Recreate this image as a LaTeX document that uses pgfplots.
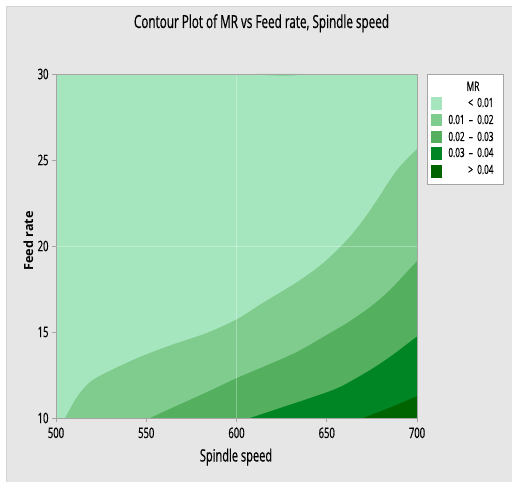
\documentclass[border=0pt]{standalone}
\usepackage{fontspec}
\setmainfont{Open Sans}[FakeStretch=0.65, FakeBold=0.6]
\newfontfamily\ylabfont{Open Sans}
\usepackage{pgfplots}
\pgfplotsset{compat=1.18}

\definecolor{lev1}{RGB}{166,230,190}
\definecolor{lev2}{RGB}{128,204,143}
\definecolor{lev3}{RGB}{84,176,94}
\definecolor{lev4}{RGB}{0,133,36}
\definecolor{lev5}{RGB}{0,100,0}
\definecolor{bggray}{RGB}{230,230,230}
\definecolor{edgegray}{RGB}{212,212,212}
\definecolor{axgray}{RGB}{165,165,165}

\begin{document}
\begin{tikzpicture}
\useasboundingbox (0,0) rectangle (512bp,482bp);
\fill[white] (0,0) rectangle (512bp,482bp);
\fill[bggray] (6bp,0) rectangle (512bp,476bp);
\draw[edgegray, line width=0.6bp] (6.3bp,0) -- (6.3bp,475.7bp) -- (512bp,475.7bp);

\begin{axis}[
    at={(56bp,64bp)}, anchor=south west,
    scale only axis,
    width=361bp, height=344bp,
    xmin=500, xmax=700,
    ymin=10, ymax=30,
    xtick={500,550,600,650,700},
    ytick={10,15,20,25,30},
    xtick pos=bottom, ytick pos=left,
    tick align=outside,
    major tick length=4bp,
    tick style={draw=axgray, line width=0.6bp},
    axis line style={draw=axgray, line width=0.8bp},
    axis background/.style={fill=lev1},
    /pgf/number format/assume math mode=true,
    ticklabel style={font=\fontsize{14.5bp}{16bp}\selectfont, text=black},
    xticklabel style={yshift=-2bp},
    axis on top,
]
% MR >= 0.01
\addplot[draw=none, fill=lev2, smooth, tension=0.5] coordinates {
    (505.0,10) (511.6,11.22) (518.8,12.09) (528.3,12.67) (546.5,13.55)
    (565.4,14.3) (583.7,14.95) (600.3,15.75) (614.7,16.7) (633.5,17.9)
    (647.9,19.0) (661.2,20.35) (670.1,21.5) (677.8,22.67) (688.9,24.42)
    (700,25.65)
} -- (axis cs:700,10) -- cycle;
% small patch at the top edge
\addplot[draw=none, fill=lev2, smooth] coordinates {
    (611,30) (618,29.93) (626,29.9) (633,29.93) (637,30)
} -- cycle;
% MR >= 0.02
\addplot[draw=none, fill=lev3, smooth, tension=0.5] coordinates {
    (552.1,10) (565.4,10.64) (583.7,11.51) (600.3,12.33) (614.7,12.97)
    (633.5,13.84) (651.8,14.94) (661.2,15.52) (674.0,16.45) (685.0,17.44)
    (698.9,19.0) (700,19.1)
} -- (axis cs:700,10) -- cycle;
% MR >= 0.03
\addplot[draw=none, fill=lev4, smooth, tension=0.5] coordinates {
    (607.5,10) (624.1,10.58) (642.4,11.22) (657.3,11.8) (674.0,12.79)
    (685.0,13.55) (698.9,14.65) (700,14.72)
} -- (axis cs:700,10) -- cycle;
% MR >= 0.04
\addplot[draw=none, fill=lev5] coordinates {
    (670.1,10) (685.0,10.6) (698.9,11.22) (700,11.27)
} -- (axis cs:700,10) -- cycle;
\draw[white, opacity=0.3, line width=0.6bp] (axis cs:600,10) -- (axis cs:600,30);
\draw[white, opacity=0.3, line width=0.6bp] (axis cs:500,20) -- (axis cs:700,20);
\end{axis}

% title and axis labels
\node[anchor=base, font=\fontsize{18bp}{20bp}\selectfont, text=black] at (261.5bp,454bp)
    {Contour Plot of MR vs Feed rate, Spindle speed};
\node[anchor=base, font=\fontsize{17bp}{19bp}\selectfont, text=black] at (236bp,20.5bp)
    {Spindle speed};
\node[anchor=base, rotate=90, font=\ylabfont\bfseries\fontsize{12.6bp}{14bp}\selectfont, text=black]
    at (33bp,241bp) {Feed rate};

% legend
\draw[axgray, fill=white, line width=0.6bp] (427bp,298bp) rectangle (503bp,408bp);
\node[anchor=base, font=\fontsize{13bp}{14bp}\selectfont] at (473bp,391bp) {MR};
\fill[lev1] (431bp,372bp) rectangle (442bp,385bp);
\fill[lev2] (431bp,356bp) rectangle (442bp,368bp);
\fill[lev3] (431bp,339bp) rectangle (442bp,351bp);
\fill[lev4] (431bp,322bp) rectangle (442bp,335bp);
\fill[lev5] (431bp,304bp) rectangle (442bp,317bp);
\begin{scope}[every node/.style={anchor=base east, font=\fontsize{12.6bp}{14bp}\selectfont, text=black}]
\node at (497bp,375bp) {<\ \ 0.01};
\node at (497bp,358bp) {0.01\ \ --\ \ 0.02};
\node at (497bp,341bp) {0.02\ \ --\ \ 0.03};
\node at (497bp,325bp) {0.03\ \ --\ \ 0.04};
\node at (497bp,308bp) {>\ \ 0.04};
\end{scope}
\end{tikzpicture}
\end{document}
